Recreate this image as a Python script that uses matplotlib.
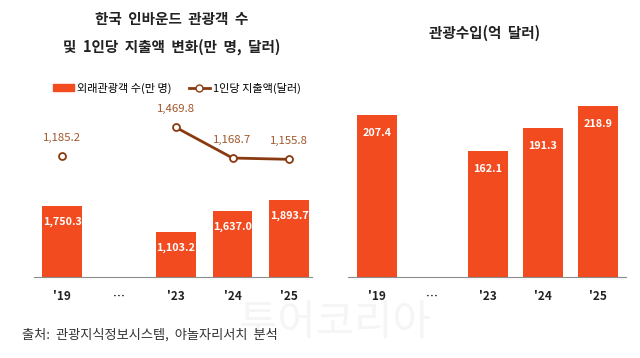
import matplotlib
matplotlib.use('Agg')
import matplotlib.pyplot as plt
from matplotlib.lines import Line2D
from matplotlib.patches import Patch

plt.rcParams['font.family'] = ['Noto Sans CJK KR', 'DejaVu Sans']

# ---------------------------------------------------------------------
years = ["'19", "…", "'23", "'24", "'25"]
visitors = [1750.3, None, 1103.2, 1637.0, 1893.7]      # 외래관광객 수(만 명)
spend = [1185.2, None, 1469.8, 1168.7, 1155.8]         # 1인당 지출액(달러)
receipts = [207.4, None, 162.1, 191.3, 218.9]          # 관광수입(억 달러)

bar_c = '#F24B1F'
line_c = '#8A3A10'
lab_c = '#A0562A'

fig = plt.figure(figsize=(6.4, 3.58), dpi=100)

# ---------------------------------------------------------------------
# 왼쪽: 관광객 수 + 1인당 지출액
ax = fig.add_axes([0.053, 0.226, 0.4345, 0.508])
xs = [i for i, v in enumerate(visitors) if v is not None]
vs = [v for v in visitors if v is not None]
ax.bar(xs, vs, width=0.7, color=bar_c)
for x, v in zip(xs, vs):
    ax.annotate(f'{v:,.1f}', (x, v), xytext=(0, -16), textcoords='offset pixels',
                ha='center', va='center', color='white', fontsize=7.8, fontweight='bold')
ax.set_xlim(-0.5, 4.4)
ax.set_ylim(0, 4480)

ax2 = ax.twinx()
ax2.set_ylim(0, 1785)
# '19 단독 점, '23~'25 선
ax2.plot([0], [spend[0]], marker='o', ms=5, mfc='white', mec=line_c, mew=1.3, ls='none')
ax2.plot([2, 3, 4], spend[2:], color=line_c, lw=2, marker='o', ms=5,
         mfc='white', mec=line_c, mew=1.3)
for x, v in enumerate(spend):
    if v is None:
        continue
    ax2.annotate(f'{v:,.1f}', (x, v), xytext=(0, 18), textcoords='offset pixels',
                 ha='center', va='center', color=lab_c, fontsize=8.2)

for a in (ax, ax2):
    for s in ('top', 'right', 'left'):
        a.spines[s].set_visible(False)
    a.set_yticks([])
ax2.spines['bottom'].set_visible(False)
ax.spines['bottom'].set_color('#8c8c8c')
ax.set_xticks(range(5))
ax.set_xticklabels(years, fontsize=8.5, fontweight='bold', color='#222222')
ax.tick_params(axis='x', length=0, pad=9)

# ---------------------------------------------------------------------
# 오른쪽: 관광수입
bx = fig.add_axes([0.544, 0.226, 0.434, 0.508])
rx = [i for i, v in enumerate(receipts) if v is not None]
rv = [v for v in receipts if v is not None]
bx.bar(rx, rv, width=0.72, color=bar_c)
for x, v in zip(rx, rv):
    bx.annotate(f'{v:,.1f}', (x, v), xytext=(0, -18), textcoords='offset pixels',
                ha='center', va='center', color='white', fontsize=7.8, fontweight='bold')
bx.set_xlim(-0.52, 4.5)
bx.set_ylim(0, 233)
for s in ('top', 'right', 'left'):
    bx.spines[s].set_visible(False)
bx.spines['bottom'].set_color('#8c8c8c')
bx.set_yticks([])
bx.set_xticks(range(5))
bx.set_xticklabels(years, fontsize=8.5, fontweight='bold', color='#222222')
bx.tick_params(axis='x', length=0, pad=9)

# ---------------------------------------------------------------------
# 제목, 범례, 출처
fig.text(172 / 640, 1 - 19 / 358, '한국  인바운드  관광객  수', ha='center', va='center',
         fontsize=10.5, fontweight='bold', color='#222222')
fig.text(172 / 640, 1 - 47 / 358, '및  1인당  지출액  변화(만  명,  달러)', ha='center', va='center',
         fontsize=10.5, fontweight='bold', color='#222222')
fig.text(485 / 640, 1 - 33 / 358, '관광수입(억  달러)', ha='center', va='center',
         fontsize=10.5, fontweight='bold', color='#222222')

handles = [Patch(color=bar_c),
           Line2D([], [], color=line_c, lw=2, marker='o', ms=5, mfc='white', mec=line_c)]
fig.legend(handles, ['외래관광객 수(만 명)', '1인당 지출액(달러)'], ncol=2, frameon=False,
           loc='center', bbox_to_anchor=(177 / 640, 1 - 88 / 358), fontsize=8,
           handlelength=1.9, handleheight=0.6, columnspacing=1.5, handletextpad=0.3)

fig.text(22 / 640, 1 - 335 / 358, '출처:  관광지식정보시스템,  야놀자리서치  분석',
         ha='left', va='center', fontsize=9.5, color='#333333')

# 워터마크
fig.text(335 / 640, 1 - 323 / 358, '투어코리아', ha='center', va='center',
         fontsize=30, color='#f5f5f5', zorder=0)

fig.savefig('out.png', dpi=100)
